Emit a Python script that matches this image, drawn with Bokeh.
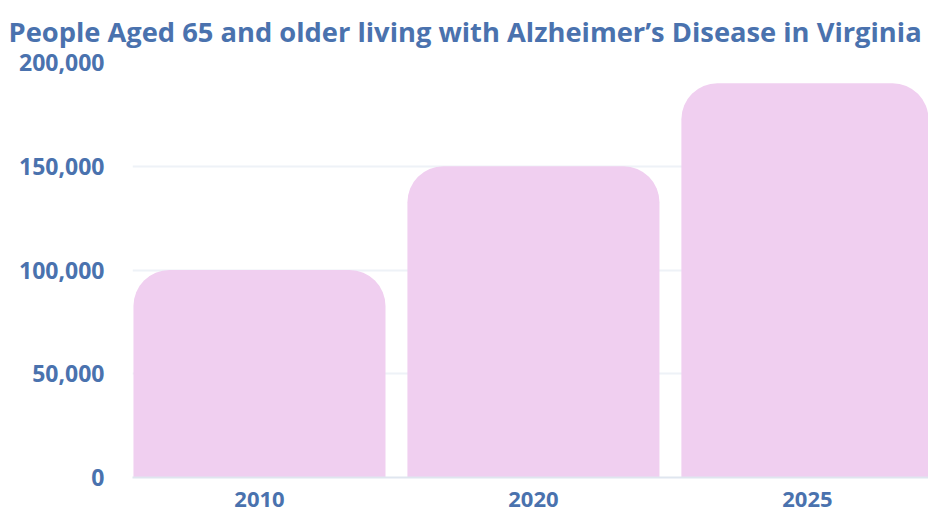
from bokeh.plotting import figure
from bokeh.models import Range1d, NumeralTickFormatter, FixedTicker, Title
from bokeh.embed import file_html
from bokeh.resources import INLINE

years = ["2010", "2020", "2025"]
people = [100000, 150000, 190000]
y_ticks = [0, 50000, 100000, 150000, 200000]
title_text = "People Aged 65 and older living with Alzheimer\u2019s Disease in Virginia"

# category positions (band centres) on a numeric axis
xpos = [i + 0.5 for i in range(len(years))]

TEXT = "#4a72ae"
BAR = "#f0cff0"
FONT = "Open Sans"

p = figure(width=928, height=517, output_backend="svg", toolbar_location=None,
           x_range=Range1d(0.0365, 2.942),
           y_range=Range1d(0, 200000),
           min_border_left=132, min_border_right=0, min_border_bottom=40, min_border_top=62)
t = Title(text=title_text, text_font=FONT, text_font_size="27.3px", text_font_style="bold",
          text_color=TEXT, align="left", vertical_align="top", offset=-124, standoff=22)
p.add_layout(t, "above")

p.vbar(x=xpos, top=people, width=0.92, fill_color=BAR, line_color=None,
       border_radius=(36, 36, 0, 0))

p.outline_line_color = None
p.background_fill_color = "white"
p.border_fill_color = "white"

p.xgrid.grid_line_color = None
p.ygrid.grid_line_color = "#eef2f7"
p.ygrid.grid_line_width = 2
p.yaxis.ticker = FixedTicker(ticks=y_ticks)
p.yaxis.formatter = NumeralTickFormatter(format="0,0")
p.yaxis.axis_line_color = None
p.yaxis.major_tick_line_color = None
p.yaxis.minor_tick_line_color = None
p.yaxis.major_label_text_font = FONT
p.yaxis.major_label_text_font_size = "23px"
p.yaxis.major_label_text_font_style = "bold"
p.yaxis.major_label_text_color = TEXT
p.yaxis.major_label_standoff = 22

p.xaxis.ticker = FixedTicker(ticks=xpos)
p.xaxis.major_label_overrides = {x: y for x, y in zip(xpos, years)}
p.xaxis.axis_line_color = "#dfe6ef"
p.xaxis.axis_line_width = 2
p.xaxis.major_tick_line_color = None
p.xaxis.minor_tick_line_color = None
p.xaxis.major_label_text_font = FONT
p.xaxis.major_label_text_font_size = "22px"
p.xaxis.major_label_text_font_style = "bold"
p.xaxis.major_label_text_color = TEXT
p.xaxis.major_label_standoff = 8

open("out.html", "w").write(file_html(p, INLINE))
